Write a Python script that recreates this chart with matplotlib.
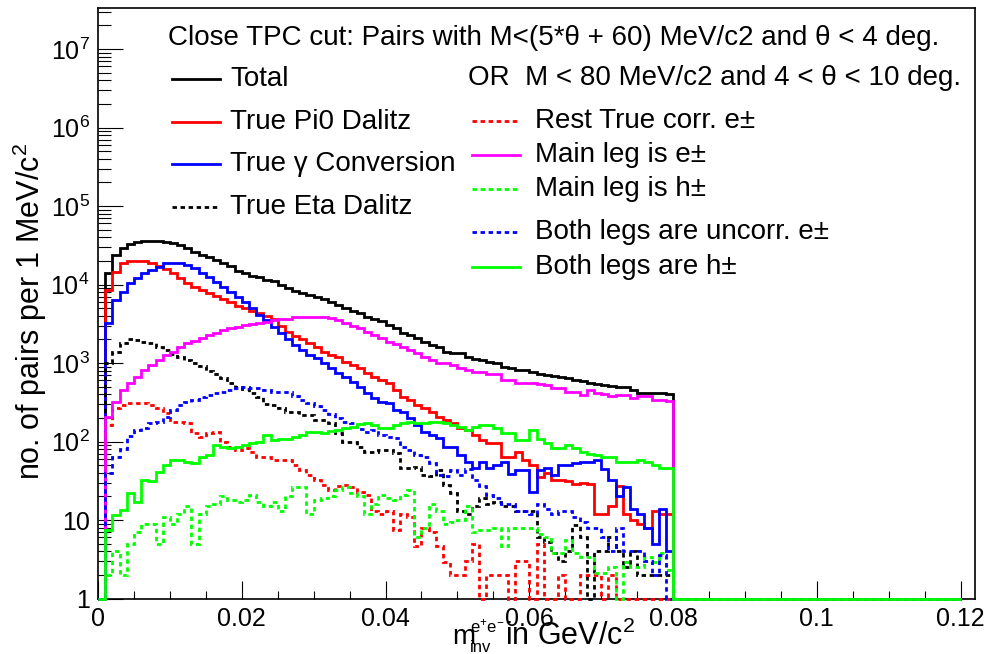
import numpy as np
import matplotlib
matplotlib.use("Agg")
import matplotlib.pyplot as plt
from matplotlib.ticker import FixedLocator, FuncFormatter, LogLocator, NullFormatter

plt.rcParams["font.family"] = ["Liberation Sans", "DejaVu Sans"]
plt.rcParams["mathtext.fontset"] = "custom"
plt.rcParams["mathtext.rm"] = "Liberation Sans"
plt.rcParams["mathtext.it"] = "Liberation Sans:italic"

# counts per 1 MeV/c2 bin, bins 0..80 MeV (0 = empty bin)
total = [0, 1.4e4, 2.4e4, 2.9e4, 3.3e4, 3.5e4, 3.6e4, 3.6e4, 3.6e4, 3.5e4,
         3.4e4, 3.2e4, 2.9e4, 2.6e4, 2.4e4, 2.25e4, 2.05e4, 1.9e4, 1.7e4, 1.5e4,
         1.4e4, 1.3e4, 1.25e4, 1.15e4, 1.1e4, 1.0e4, 8.9e3, 8.3e3, 7.9e3, 7.3e3,
         6.9e3, 6.5e3, 6.0e3, 5.5e3, 5.0e3, 4.6e3, 4.3e3, 3.9e3, 3.6e3, 3.4e3,
         3.05e3, 2.8e3, 2.4e3, 2.3e3, 2.07e3, 1.87e3, 1.7e3, 1.58e3, 1.39e3, 1.35e3,
         1.33e3, 1.2e3, 1.11e3, 1.09e3, 1.04e3, 1.0e3, 900, 860, 815, 815,
         770, 720, 700, 680, 660, 645, 605, 590, 555, 540,
         525, 510, 500, 495, 450, 420, 420, 415, 415, 400]
pi0_dalitz = [0, 8.5e3, 1.45e4, 1.86e4, 2.0e4, 2.0e4, 2.0e4, 1.86e4, 1.72e4, 1.56e4,
              1.39e4, 1.2e4, 1.03e4, 9.4e3, 8.5e3, 7.7e3, 7.1e3, 6.5e3, 5.9e3, 5.3e3,
              5.0e3, 4.6e3, 4.3e3, 4.0e3, 3.6e3, 3.0e3, 2.5e3, 2.2e3, 2.0e3, 1.8e3,
              1.6e3, 1.39e3, 1.26e3, 1.18e3, 1.04e3, 940, 855, 740, 670, 607,
              550, 453, 372, 338, 292, 267, 238, 207, 188, 172,
              149, 140, 121, 104, 96, 96, 64, 64, 74, 58,
              50, 35, 40, 32, 32, 31, 29, 30, 29, 12,
              12, 15, 27, 12, 10, 9, 8, 13, 12, 12]
gamma_conv = [0, 3.2e3, 6.3e3, 8.1e3, 1.04e4, 1.2e4, 1.39e4, 1.53e4, 1.69e4, 1.86e4,
              1.9e4, 1.9e4, 1.77e4, 1.6e4, 1.39e4, 1.26e4, 1.09e4, 9.4e3, 8.1e3, 7.0e3,
              6.0e3, 5.0e3, 4.1e3, 3.5e3, 2.9e3, 2.4e3, 2.0e3, 1.7e3, 1.46e3, 1.26e3,
              1.15e3, 990, 855, 740, 670, 578, 499, 411, 358, 321,
              305, 252, 240, 198, 162, 133, 120, 110, 86, 86,
              67, 55, 46, 55, 46, 50, 55, 39, 43, 43,
              23, 43, 46, 37, 50, 50, 53, 55, 55, 58,
              45, 32, 20, 26, 14, 12, 8, 5, 14, 4]
eta_dalitz = [0, 1.0e3, 1.39e3, 1.78e3, 2.0e3, 1.96e3, 1.87e3, 1.78e3, 1.6e3, 1.47e3,
              1.3e3, 1.2e3, 1.09e3, 990, 905, 800, 724, 640, 560, 500,
              470, 420, 370, 300, 292, 265, 240, 238, 217, 217,
              188, 188, 170, 127, 99, 99, 86, 74, 74, 78,
              78, 71, 46, 46, 48, 37, 36, 43, 28, 22,
              13, 12, 15, 19, 16, 17, 15, 15, 13, 13,
              13, 6, 5.3, 3.8, 3, 4, 8.6, 6, 0, 4,
              4, 6, 4, 2.5, 4, 2, 2, 2, 2, 2]
rest_true = [0, 160, 265, 292, 305, 305, 305, 292, 265, 228,
             178, 178, 170, 127, 115, 127, 133, 99, 86, 78,
             82, 74, 64, 64, 58, 58, 58, 50, 43, 37,
             32, 28, 24, 27, 28, 26, 23, 21, 13, 12,
             13, 7.4, 12, 11, 4.6, 8, 7, 4.6, 2.9, 2,
             2, 3, 5, 0, 2, 2, 2, 0, 3, 3,
             0, 5, 0, 0, 2, 0, 0, 2, 2, 2,
             0, 2, 0, 0, 0, 0, 0, 0, 0, 0]
main_leg_e = [0, 207, 321, 453, 561, 669, 815, 944, 1.09e3, 1.26e3,
              1.39e3, 1.58e3, 1.78e3, 1.92e3, 2.07e3, 2.27e3, 2.39e3, 2.63e3, 2.77e3, 2.9e3,
              3.05e3, 3.14e3, 3.2e3, 3.36e3, 3.53e3, 3.6e3, 3.65e3, 3.82e3, 3.89e3, 3.89e3,
              3.89e3, 3.85e3, 3.7e3, 3.53e3, 3.2e3, 2.96e3, 2.77e3, 2.5e3, 2.27e3, 2.07e3,
              1.87e3, 1.75e3, 1.61e3, 1.47e3, 1.33e3, 1.2e3, 1.09e3, 1.01e3, 990, 944,
              855, 815, 774, 774, 724, 724, 607, 607, 551, 551,
              551, 540, 525, 476, 476, 431, 431, 391, 450, 411,
              400, 380, 391, 391, 355, 380, 380, 338, 338, 330]
main_leg_h = [0, 2, 4, 2, 5, 7, 9, 9, 5, 11,
              9, 12, 15, 5, 12, 15, 16, 20, 18, 17,
              18, 21, 17, 15, 17, 13, 20, 26, 26, 12,
              18, 19, 20, 24, 26, 22, 20, 12, 16, 21,
              19, 18, 21, 24, 6, 8, 16, 13, 9, 9.5,
              10, 15, 7, 7.4, 7.4, 8, 4.6, 8, 8, 8,
              8, 6.7, 6, 3.8, 3.8, 5.5, 3.8, 3.4, 3.4, 2.1,
              2.1, 2.5, 0, 2.9, 2.5, 2.5, 3.4, 2.9, 3.8, 2.3]
uncorr_e = [0, 40, 64, 80, 118, 140, 150, 170, 175, 205,
            250, 292, 321, 338, 370, 391, 411, 431, 453, 476,
            498, 480, 476, 453, 431, 431, 430, 380, 340, 305,
            280, 250, 225, 200, 175, 170, 145, 133, 140, 121,
            115, 110, 86, 78, 67, 64, 53, 37, 36, 43,
            37, 45, 32, 27, 21, 19, 16, 16, 13, 13,
            12, 16, 14, 12, 13, 13, 11, 9.5, 8, 8,
            6, 4, 8, 4, 4, 4, 3, 2, 3.6, 0]
both_h = [0, 7.5, 11.6, 13.4, 22, 17, 32, 31, 41, 50,
          58, 58, 55, 53, 64, 67, 90, 86, 82, 86,
          90, 95, 99, 121, 105, 109, 109, 115, 121, 133,
          133, 127, 135, 140, 150, 154, 165, 170, 160, 150,
          147, 162, 170, 178, 172, 172, 178, 178, 170, 162,
          154, 140, 154, 162, 162, 147, 127, 127, 105, 105,
          140, 109, 95, 82, 82, 90, 82, 74, 70, 67,
          64, 64, 55, 55, 55, 58, 55, 50, 46, 46]

series = [
    ("Total", total, "black", "-"),
    ("True Pi0 Dalitz", pi0_dalitz, "red", "-"),
    ("True \u03b3 Conversion", gamma_conv, "blue", "-"),
    ("True Eta Dalitz", eta_dalitz, "black", "--"),
    ("Rest True corr. e\u00b1", rest_true, "red", "--"),
    ("Main leg is e\u00b1", main_leg_e, "magenta", "-"),
    ("Main leg is h\u00b1", main_leg_h, "#00ff00", "--"),
    ("Both legs are uncorr. e\u00b1", uncorr_e, "blue", "--"),
    ("Both legs are h\u00b1", both_h, "#00ff00", "-"),
]

YMIN, YMAX = 1.0, 3.33e7
n_bins = 120
edges = np.linspace(0.0, 0.12, n_bins + 1)
dash = (0, (1.6, 1.3))
LW = 2.0
FS_TEXT = 20
FS_TITLE = 22
FS_TICK = 18

W, H = 985, 654
fig = plt.figure(figsize=(W / 100, H / 100), dpi=100)
ax = fig.add_axes([98 / W, 1 - 598.5 / H, 877 / W, 590.5 / H])

for name, vals, color, ls in series:
    v = np.zeros(n_bins)
    v[:len(vals)] = vals
    v = np.where(v > 0, v, YMIN)  # empty bins sit on the axis like in ROOT
    ax.stairs(v, edges, baseline=None, color=color, lw=LW,
              linestyle=dash if ls == "--" else "-", zorder=3, clip_on=False)

ax.set_yscale("log")
ax.set_xlim(0, 0.122)
ax.set_ylim(YMIN, YMAX)

ax.xaxis.set_major_locator(FixedLocator([0, 0.02, 0.04, 0.06, 0.08, 0.1, 0.12]))
ax.xaxis.set_minor_locator(FixedLocator(np.arange(0, 0.1225, 0.005)))
ax.xaxis.set_major_formatter(FuncFormatter(lambda x, p: "0" if x == 0 else f"{x:g}"))
ax.yaxis.set_major_locator(LogLocator(base=10, numticks=20))
ax.yaxis.set_minor_locator(LogLocator(base=10, subs=np.arange(2, 10), numticks=20))
ax.yaxis.set_minor_formatter(NullFormatter())


def ylab(y, pos):
    e = int(round(np.log10(y)))
    if e == 0:
        return "1"
    if e == 1:
        return "10"
    return r"$\mathregular{10^{%d}}$" % e


ax.yaxis.set_major_formatter(FuncFormatter(ylab))
ax.tick_params(axis="both", which="both", direction="in", width=0.8,
               labelsize=FS_TICK, top=False, right=False)
ax.tick_params(axis="x", which="major", length=13, pad=6)
ax.tick_params(axis="x", which="minor", length=6)
ax.tick_params(axis="y", which="major", length=18, pad=6)
ax.tick_params(axis="y", which="minor", length=9.5)
for s in ax.spines.values():
    s.set_linewidth(1.2)


def px(x, y):
    return x / W, 1 - y / H


# x title, built ROOT-like from pieces: m, small e+e- above, small inv below
fig.text(*px(452, 644), "m", fontsize=FS_TEXT, ha="left", va="baseline")
fig.text(*px(470, 632), r"$\mathregular{e^{+}e^{-}}$", fontsize=12, ha="left", va="baseline")
fig.text(*px(470, 652), "inv", fontsize=12, ha="left", va="baseline")
fig.text(*px(505, 645), r"in GeV/c$\mathregular{^{2}}$", fontsize=FS_TITLE,
         ha="left", va="baseline")
fig.text(*px(30, 312), r"no. of pairs per 1 MeV/c$\mathregular{^{2}}$",
         fontsize=FS_TITLE, ha="center", va="center", rotation=90)

# header text
fig.text(*px(168, 38), "Close TPC cut: Pairs with M<(5*\u03b8 + 60) MeV/c2 and \u03b8 < 4 deg.",
         fontsize=FS_TEXT, va="center", ha="left")
fig.text(*px(468, 78), "OR  M < 80 MeV/c2 and 4 < \u03b8 < 10 deg.",
         fontsize=FS_TEXT, va="center", ha="left")

# left legend
left_y = [79, 122, 164, 207]
for (name, vals, color, ls), y in zip(series[:4], left_y):
    fig.add_artist(plt.Line2D([172 / W, 220 / W], [1 - y / H] * 2, color=color, lw=LW,
                              linestyle=dash if ls == "--" else "-"))
    fig.text(*px(230, y), name, fontsize=FS_TEXT, va="center", ha="left")

# right legend
right_y = [121, 155, 189, 232, 267]
for (name, vals, color, ls), y in zip(series[4:], right_y):
    fig.add_artist(plt.Line2D([472 / W, 520 / W], [1 - y / H] * 2, color=color, lw=LW,
                              linestyle=dash if ls == "--" else "-"))
    fig.text(*px(535, y), name, fontsize=FS_TEXT, va="center", ha="left")

fig.savefig("out.png", dpi=100)
